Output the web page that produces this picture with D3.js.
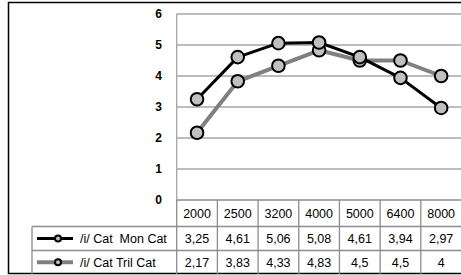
<!DOCTYPE html>
<html><head><meta charset="utf-8">
<script src="https://cdn.jsdelivr.net/npm/d3@7"></script>
<style>body{margin:0;background:#fff}svg{display:block;font-family:"Liberation Sans",Arial,sans-serif}</style>
</head><body>
<svg id="c" width="461" height="275"></svg>
<script>
const categories = ["2000","2500","3200","4000","5000","6400","8000"];
const seriesNames = ["/i/ Cat  Mon Cat","/i/ Cat Tril Cat"];
const monValues = [3.25,4.61,5.06,5.08,4.61,3.94,2.97];
const trilValues = [2.17,3.83,4.33,4.83,4.5,4.5,4];
const monLabels = ["3,25","4,61","5,06","5,08","4,61","3,94","2,97"];
const trilLabels = ["2,17","3,83","4,33","4,83","4,5","4,5","4"];
const yTicks = [0,1,2,3,4,5,6];

const svg = d3.select("#c");
const L = 176.7, R = 461.5, T = 14, B = 200;
const rowH = [200, 226.5, 250.5, 274];
const legL = 32;

const x = d3.scaleBand().domain(categories).range([L, R]);
const y = d3.scaleLinear().domain([0,6]).range([B, T]);

// outer border
svg.append("rect").attr("x",8.5).attr("y",2.5).attr("width",460).attr("height",271)
  .attr("fill","none").attr("stroke","#000").attr("stroke-width",1.5);

// gridlines
svg.append("g").selectAll("line").data(yTicks.filter(d=>d>0)).join("line")
  .attr("x1",L).attr("x2",R).attr("y1",d=>y(d)).attr("y2",d=>y(d))
  .attr("stroke","#a6a6a6").attr("stroke-width",1.3);
svg.append("line").attr("x1",L).attr("x2",L).attr("y1",T).attr("y2",B)
  .attr("stroke","#a6a6a6").attr("stroke-width",1.3);

// y labels
svg.append("g").selectAll("text").data(yTicks).join("text")
  .attr("x",162).attr("y",d=>y(d)).attr("dy","0.35em").attr("text-anchor","end")
  .attr("font-size",12).attr("font-weight","bold").text(d=>d);

// table
const tg = svg.append("g").attr("stroke","#8c8c8c").attr("stroke-width",1.3);
// horizontal lines
tg.append("line").attr("x1",L).attr("x2",R).attr("y1",rowH[0]).attr("y2",rowH[0]);
tg.append("line").attr("x1",legL).attr("x2",R).attr("y1",rowH[1]).attr("y2",rowH[1]);
tg.append("line").attr("x1",legL).attr("x2",R).attr("y1",rowH[2]).attr("y2",rowH[2]);
// vertical lines
tg.selectAll("line.v").data(categories).join("line").attr("class","v")
  .attr("x1",d=>x(d)).attr("x2",d=>x(d)).attr("y1",rowH[0]).attr("y2",rowH[3]);
tg.append("line").attr("x1",legL).attr("x2",legL).attr("y1",rowH[1]).attr("y2",rowH[3]);

const cx = d => x(d)+x.bandwidth()/2;
const tt = svg.append("g").attr("font-size",12.5).attr("fill","#000").attr("text-anchor","middle");
tt.selectAll("text.h").data(categories).join("text").attr("class","h")
  .attr("x",cx).attr("y",(rowH[0]+rowH[1])/2).attr("dy","0.36em").text(d=>d);
tt.selectAll("text.m").data(categories).join("text").attr("class","m")
  .attr("x",cx).attr("y",(rowH[1]+rowH[2])/2).attr("dy","0.36em").text((d,i)=>monLabels[i]);
tt.selectAll("text.t").data(categories).join("text").attr("class","t")
  .attr("x",cx).attr("y",(rowH[2]+rowH[3])/2).attr("dy","0.36em").text((d,i)=>trilLabels[i]);

// series
const series = [
  {vals: monValues, color:"#000", w:3},
  {vals: trilValues, color:"#808080", w:4}
];
const line = d3.line().x((d,i)=>cx(categories[i])).y(d=>y(d));
series.slice().reverse().forEach(s=>{
  svg.append("path").attr("d",line(s.vals)).attr("fill","none")
    .attr("stroke",s.color).attr("stroke-width",s.w).attr("stroke-linejoin","round");
});
series.slice().reverse().forEach(s=>{
  svg.append("g").selectAll("circle").data(s.vals).join("circle")
    .attr("cx",(d,i)=>cx(categories[i])).attr("cy",d=>y(d)).attr("r",6.3)
    .attr("fill","#c0c0c0").attr("stroke","#000").attr("stroke-width",2);
});

// legend
series.forEach((s,i)=>{
  const yy = (rowH[i+1]+rowH[i+2])/2;
  svg.append("line").attr("x1",37).attr("x2",73).attr("y1",yy).attr("y2",yy)
    .attr("stroke",s.color).attr("stroke-width",s.w);
  svg.append("circle").attr("cx",58).attr("cy",yy).attr("r",3)
    .attr("fill","#c0c0c0").attr("stroke","#000").attr("stroke-width",2);
  svg.append("text").attr("x",80).attr("y",yy).attr("dy","0.36em")
    .attr("font-size",12.5).attr("xml:space","preserve").style("white-space","pre").text(seriesNames[i]);
});
</script>
</body></html>
